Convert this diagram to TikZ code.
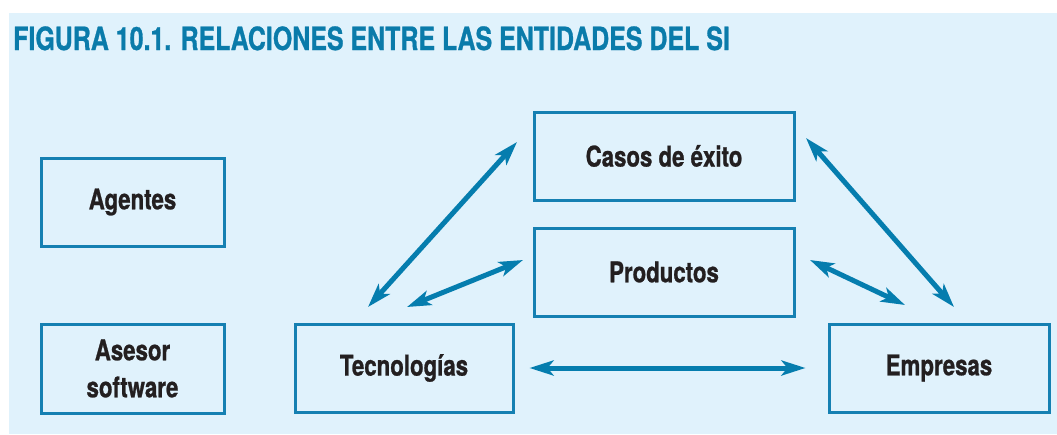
\documentclass[tikz,border=0pt]{standalone}
\usepackage{fontspec}
\setmainfont[FakeStretch=0.78, BoldFeatures={FakeBold=0.8}]{TeX Gyre Heros}
\usetikzlibrary{arrows.meta}
\definecolor{bgblue}{HTML}{E0F2FC}
\definecolor{boxblue}{HTML}{1580B2}
\definecolor{arrblue}{HTML}{057DAE}
\definecolor{titleblue}{HTML}{0A7BAA}
\definecolor{txt}{HTML}{231F20}
\tikzset{
  ent/.style={draw=boxblue, line width=3pt, fill=bgblue, rectangle, inner sep=0pt,
    text=txt, font=\fontsize{28.5}{37}\selectfont\bfseries, align=center},
  rel/.style={draw=arrblue, line width=5pt,
    {Stealth[length=24pt,width=15pt,inset=6pt]}-{Stealth[length=24pt,width=15pt,inset=6pt]}},
}
\begin{document}
\begin{tikzpicture}[x=1pt,y=-1pt]
\useasboundingbox (0,0) rectangle (1057,434);
\fill[white] (0,0) rectangle (1057,434);
\fill[bgblue] (9,13) rectangle (1057,434);
\node[anchor=base west, text=titleblue, font=\fontsize{32}{36}\selectfont\bfseries, inner sep=0pt] (title) at (13,50) {FIGURA 10.1. RELACIONES ENTRE LAS ENTIDADES DEL SI};

\node[ent, minimum width=183pt, minimum height=88pt] (agentes) at (132.5,202) {\raisebox{-2pt}{Agentes}};
\node[ent, minimum width=183pt, minimum height=89pt] (asesor) at (132.5,368.5) {Asesor\\software};
\node[ent, minimum width=218pt, minimum height=88pt] (tec) at (404,368) {Tecnolog\'ias};
\node[ent, minimum width=260pt, minimum height=88pt] (casos) at (664,156) {Casos de \'exito};
\node[ent, minimum width=260pt, minimum height=88pt] (prod) at (664,272) {Productos};
\node[ent, minimum width=220pt, minimum height=88pt] (emp) at (939,368) {Empresas};

\coordinate (tc1) at (368,307);
\coordinate (tc2) at (517,142);
\coordinate (tp1) at (407,307);
\coordinate (tp2) at (523,260);
\coordinate (ce1) at (806,138);
\coordinate (ce2) at (954,307);
\coordinate (pe1) at (810,260);
\coordinate (pe2) at (905,305);

\draw[rel] (tc1) -- (tc2);
\draw[rel] (tp1) -- (tp2);
\draw[rel] (ce1) -- (ce2);
\draw[rel] (pe1) -- (pe2);
\draw[rel, shorten <=15pt, shorten >=22pt] (tec.east) -- (emp.west);
\end{tikzpicture}
\end{document}
